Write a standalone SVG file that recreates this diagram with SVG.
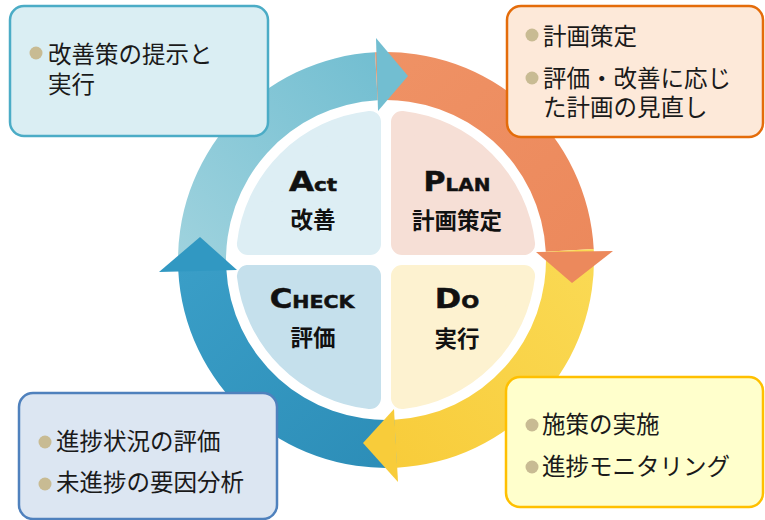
<svg xmlns="http://www.w3.org/2000/svg" width="765" height="520" viewBox="0 0 765 520">
<defs>
<style>
.box{stroke-width:2.5}
.bt{font-family:"Noto Sans CJK JP","Noto Sans CJK SC",sans-serif;font-size:23.5px;fill:#1a1a1a}
.dot{fill:#C8BB93}
.en{font-family:"DejaVu Sans",sans-serif;font-weight:bold;fill:#111;stroke:#111;stroke-width:0.5}
.jp{font-family:"Noto Sans CJK JP",sans-serif;font-weight:bold;font-size:22.5px;fill:#111}
.q{stroke-width:22;stroke-linejoin:round}
</style>
<linearGradient id="gA" x1="0" y1="1" x2="1" y2="0"><stop offset="0" stop-color="#A0D3DE"/><stop offset="1" stop-color="#72BED1"/></linearGradient>
<linearGradient id="gP" x1="0" y1="0" x2="1" y2="1"><stop offset="0" stop-color="#EF9265"/><stop offset="1" stop-color="#EC895C"/></linearGradient>
<linearGradient id="gD" x1="1" y1="0" x2="0" y2="1"><stop offset="0" stop-color="#FADA55"/><stop offset="1" stop-color="#F8CC3A"/></linearGradient>
<linearGradient id="gC" x1="1" y1="1" x2="0" y2="0"><stop offset="0" stop-color="#2C8DB7"/><stop offset="1" stop-color="#3A9EC7"/></linearGradient>
</defs>
<rect width="765" height="520" fill="#fff"/>
<g id="cycle">
<path id="body-act" d="M178.28,270.89 A208,208 0 0 1 375.11,52.28 L377.63,100.22 A160,160 0 0 0 226.22,268.37 Z" fill="url(#gA)"/>
<path id="body-plan" d="M375.11,52.28 A208,208 0 0 1 593.72,249.11 L545.78,251.63 A160,160 0 0 0 377.63,100.22 Z" fill="url(#gP)"/>
<path id="body-do" d="M593.72,249.11 A208,208 0 0 1 396.89,467.72 L394.37,419.78 A160,160 0 0 0 545.78,251.63 Z" fill="url(#gD)"/>
<path id="body-check" d="M396.89,467.72 A208,208 0 0 1 178.28,270.89 L226.22,268.37 A160,160 0 0 0 394.37,419.78 Z" fill="url(#gC)"/>
<path id="head-act" d="M376,38 L408,76 L378,111 Z" fill="#72BED1"/>
<path id="head-plan" d="M613,251 L572,283 L536,252 Z" fill="#EC895C"/>
<path id="head-do" d="M398,482 L363,443 L394,409 Z" fill="#F8CC3A"/>
<path id="head-check" d="M159,272 L200,237 L237,270 Z" fill="#3198C2"/>
</g>
<g id="q-act">
<path class="q" d="M370,244 L247.92,244 A139,139 0 0 1 370,121.92 Z" fill="#DDEEF4" stroke="#DDEEF4"/>
<text class="en" transform="translate(313,191) scale(1.2,1)" text-anchor="middle"><tspan font-size="27">A</tspan><tspan font-size="18">ct</tspan></text>
<text class="jp" x="313" y="228" text-anchor="middle">改善</text>
</g>
<g id="q-plan">
<path class="q" d="M402,244 L402,121.92 A139,139 0 0 1 524.08,244 Z" fill="#F6DFD6" stroke="#F6DFD6"/>
<text class="en" transform="translate(457,191) scale(1.11,1)" text-anchor="middle"><tspan font-size="27">P</tspan><tspan font-size="18">LAN</tspan></text>
<text class="jp" x="457" y="229" text-anchor="middle">計画策定</text>
</g>
<g id="q-do">
<path class="q" d="M402,276 L524.08,276 A139,139 0 0 1 402,398.08 Z" fill="#FDF2D0" stroke="#FDF2D0"/>
<text class="en" transform="translate(457,308) scale(1.18,1)" text-anchor="middle"><tspan font-size="27">D</tspan><tspan font-size="18">O</tspan></text>
<text class="jp" x="457" y="347" text-anchor="middle">実行</text>
</g>
<g id="q-check">
<path class="q" d="M370,276 L370,398.08 A139,139 0 0 1 247.92,276 Z" fill="#C5E0EC" stroke="#C5E0EC"/>
<text class="en" transform="translate(312,308) scale(1.14,1)" text-anchor="middle"><tspan font-size="27">C</tspan><tspan font-size="18">HECK</tspan></text>
<text class="jp" x="313" y="346" text-anchor="middle">評価</text>
</g>
<g id="box-act">
<rect class="box" x="10" y="6" width="258" height="130" rx="14" fill="#DAEEF3" stroke="#4BACC6"/>
<circle class="dot" cx="36" cy="53" r="6.5"/>
<text class="bt" x="48" y="63">改善策の提示と</text>
<text class="bt" x="48" y="93">実行</text>
</g>
<g id="box-plan">
<rect class="box" x="507" y="6" width="256" height="131" rx="14" fill="#FDE9D9" stroke="#E46C0A"/>
<circle class="dot" cx="532" cy="35" r="6.5"/>
<text class="bt" x="543" y="45">計画策定</text>
<circle class="dot" cx="532" cy="78" r="6.5"/>
<text class="bt" x="543" y="87">評価・改善に応じ</text>
<text class="bt" x="543" y="116">た計画の見直し</text>
</g>
<g id="box-do">
<rect class="box" x="506" y="377" width="257" height="130" rx="14" fill="#FFFFCC" stroke="#FFC000"/>
<circle class="dot" cx="532" cy="425" r="6.5"/>
<text class="bt" x="542" y="433">施策の実施</text>
<circle class="dot" cx="532" cy="467" r="6.5"/>
<text class="bt" x="542" y="475">進捗モニタリング</text>
</g>
<g id="box-check">
<rect class="box" x="19" y="393" width="258" height="126" rx="14" fill="#DCE6F2" stroke="#4F81BD"/>
<circle class="dot" cx="45" cy="442" r="6.5"/>
<text class="bt" x="56" y="450">進捗状況の評価</text>
<circle class="dot" cx="45" cy="484" r="6.5"/>
<text class="bt" x="56" y="491">未進捗の要因分析</text>
</g>
</svg>
